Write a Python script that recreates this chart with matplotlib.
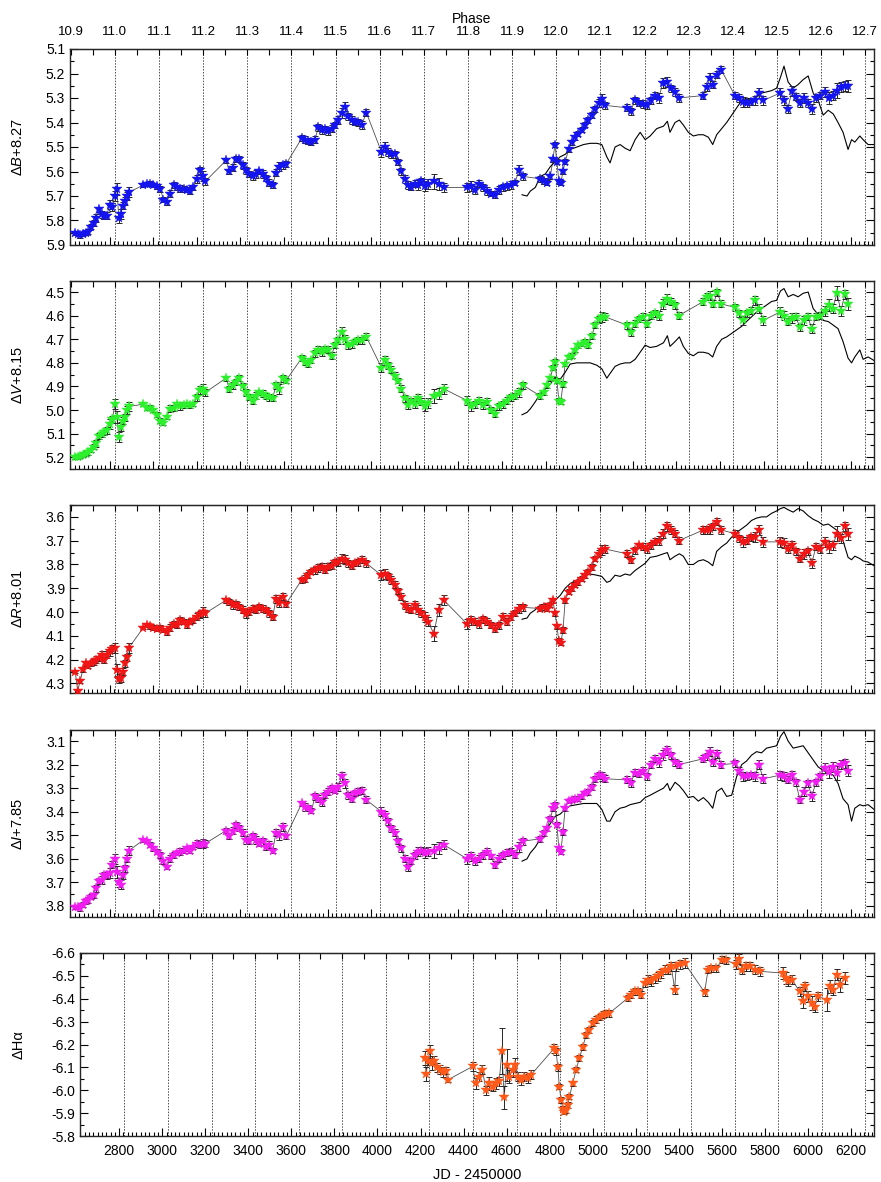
import numpy as np
import matplotlib.pyplot as plt
from matplotlib.ticker import MultipleLocator, NullFormatter, FormatStrFormatter

plt.rcParams['font.family'] = ['Liberation Sans', 'DejaVu Sans']
plt.rcParams['mathtext.fontset'] = 'custom'
plt.rcParams['mathtext.rm'] = 'Liberation Sans'
plt.rcParams['mathtext.it'] = 'Liberation Sans:italic'
plt.rcParams['axes.unicode_minus'] = False

# ephemeris for the phase scale (phase 11.0 at JD 2452824)
T0 = 2824.0
P = 2025.0

# BVRI photometry: common epochs (JD - 2450000)
jd = [2642, 2653, 2665, 2677, 2690, 2702, 2714, 2726, 2738, 2751, 2763, 2775, 2787, 2800, 2812,
      2824, 2833, 2842, 2851, 2861, 2870, 2879, 2888,
      2955, 2971, 2986, 3001, 3016, 3032, 3047, 3062, 3077, 3093, 3108, 3123, 3139, 3154, 3169, 3184, 3200, 3215, 3227, 3239,
      3334, 3349, 3365, 3380, 3395, 3410, 3426, 3441, 3456, 3471, 3487, 3502, 3517, 3532, 3548, 3563, 3578, 3594, 3609,
      3681, 3696, 3711, 3726, 3742, 3757, 3772, 3788, 3803, 3818, 3833, 3849, 3864, 3879, 3894, 3910, 3925, 3940, 3956, 3978,
      4047, 4062, 4078, 4093, 4108, 4123, 4139, 4154, 4169, 4184, 4200, 4215, 4230, 4246, 4261, 4287, 4310, 4333,
      4440, 4458, 4476, 4495, 4513, 4531, 4550, 4568, 4586, 4605, 4623, 4641, 4660, 4678, 4696,
      4776, 4791, 4806, 4822, 4834, 4843, 4852, 4861, 4870, 4880,
      4890, 4906, 4921, 4936, 4951, 4967, 4982, 4997, 5012, 5028, 5043, 5058, 5074,
      5173, 5191, 5209, 5228, 5246, 5264, 5283, 5301, 5319, 5338, 5356, 5374, 5393, 5411,
      5524, 5539, 5555, 5570, 5588, 5606,
      5669, 5688, 5706, 5724, 5742, 5761, 5779, 5799,
      5875, 5894, 5912, 5930, 5948, 5967, 5985, 6003, 6022, 6040, 6058,
      6081, 6100, 6118, 6137, 6155, 6173, 6188]

b_mag = [5.85, 5.855, 5.86, 5.855, 5.85, 5.845, 5.825, 5.81, 5.79, 5.755, 5.775, 5.78, 5.78, 5.735, 5.745,
         5.70, 5.67, 5.79, 5.775, 5.74, 5.72, 5.70, 5.685,
         5.655, 5.65, 5.65, 5.655, 5.66, 5.67, 5.715, 5.725, 5.69, 5.655, 5.665, 5.67, 5.67, 5.675, 5.68, 5.665, 5.63, 5.595, 5.62, 5.64,
         5.555, 5.60, 5.585, 5.55, 5.55, 5.575, 5.595, 5.61, 5.62, 5.61, 5.60, 5.61, 5.625, 5.645, 5.655, 5.605, 5.58, 5.575, 5.57,
         5.465, 5.47, 5.475, 5.48, 5.47, 5.42, 5.43, 5.425, 5.435, 5.425, 5.41, 5.39, 5.36, 5.335, 5.375, 5.39, 5.40, 5.40, 5.41, 5.36,
         5.52, 5.50, 5.52, 5.53, 5.53, 5.56, 5.60, 5.63, 5.655, 5.665, 5.65, 5.655, 5.64, 5.66, 5.65, 5.64, 5.65, 5.665,
         5.665, 5.66, 5.675, 5.65, 5.665, 5.68, 5.69, 5.695, 5.675, 5.665, 5.66, 5.655, 5.645, 5.595, 5.62,
         5.63, 5.64, 5.645, 5.62, 5.55, 5.49, 5.56, 5.64, 5.645, 5.60,
         5.56, 5.51, 5.48, 5.46, 5.445, 5.43, 5.41, 5.39, 5.37, 5.345, 5.32, 5.305, 5.33,
         5.34, 5.355, 5.31, 5.32, 5.325, 5.33, 5.31, 5.29, 5.30, 5.24, 5.235, 5.26, 5.275, 5.30,
         5.29, 5.255, 5.22, 5.245, 5.205, 5.185,
         5.29, 5.30, 5.315, 5.32, 5.315, 5.31, 5.28, 5.31,
         5.28, 5.31, 5.345, 5.27, 5.295, 5.32, 5.30, 5.32, 5.345, 5.30, 5.29,
         5.275, 5.30, 5.29, 5.27, 5.255, 5.25, 5.25]

v_mag = [5.20, 5.20, 5.195, 5.19, 5.185, 5.18, 5.17, 5.155, 5.14, 5.11, 5.10, 5.095, 5.085, 5.06, 5.04,
         4.975, 5.03, 5.115, 5.07, 5.045, 5.03, 5.0, 4.985,
         4.975, 4.99, 4.99, 5.0, 5.02, 5.045, 5.055, 5.03, 4.995, 4.99, 4.975, 4.985, 4.98, 4.975, 4.98, 4.975, 4.945, 4.915, 4.91, 4.925,
         4.865, 4.91, 4.895, 4.88, 4.865, 4.90, 4.925, 4.945, 4.96, 4.94, 4.925, 4.93, 4.94, 4.945, 4.95, 4.895, 4.91, 4.865, 4.875,
         4.78, 4.795, 4.805, 4.79, 4.76, 4.745, 4.755, 4.74, 4.745, 4.77, 4.725, 4.705, 4.67, 4.70, 4.725, 4.72, 4.71, 4.705, 4.705, 4.69,
         4.82, 4.79, 4.81, 4.83, 4.855, 4.875, 4.91, 4.95, 4.98, 4.96, 4.975, 4.95, 4.965, 4.985, 4.97, 4.94, 4.93, 4.91,
         4.96, 4.985, 4.975, 4.96, 4.98, 4.965, 5.0, 5.015, 4.985, 4.975, 4.96, 4.945, 4.94, 4.925, 4.895,
         4.94, 4.925, 4.895, 4.865, 4.82, 4.795, 4.875, 4.96, 4.965, 4.89,
         4.805, 4.775, 4.77, 4.745, 4.725, 4.72, 4.71, 4.725, 4.685, 4.64, 4.615, 4.605, 4.605,
         4.64, 4.67, 4.635, 4.615, 4.605, 4.635, 4.60, 4.59, 4.60, 4.55, 4.53, 4.54, 4.555, 4.60,
         4.54, 4.52, 4.515, 4.55, 4.50, 4.55,
         4.565, 4.59, 4.62, 4.59, 4.58, 4.535, 4.57, 4.62,
         4.585, 4.60, 4.625, 4.61, 4.605, 4.65, 4.62, 4.605, 4.655, 4.605, 4.60,
         4.58, 4.555, 4.57, 4.505, 4.58, 4.51, 4.55]

r_mag = [4.25, 4.33, 4.29, 4.24, 4.215, 4.225, 4.215, 4.21, 4.20, 4.195, 4.18, 4.20, 4.18, 4.165, 4.155,
         4.15, 4.245, 4.28, 4.275, 4.25, 4.215, 4.19, 4.15,
         4.065, 4.055, 4.06, 4.065, 4.07, 4.065, 4.075, 4.085, 4.065, 4.05, 4.055, 4.035, 4.04, 4.055, 4.04, 4.035, 4.02, 4.01, 4.0, 4.005,
         3.95, 3.957, 3.97, 3.965, 3.98, 3.99, 4.01, 4.0, 3.985, 3.99, 3.98, 3.985, 3.99, 4.005, 4.02, 3.945, 3.96, 3.935, 3.965,
         3.865, 3.86, 3.845, 3.83, 3.825, 3.815, 3.81, 3.825, 3.81, 3.805, 3.79, 3.79, 3.775, 3.78, 3.795, 3.805, 3.795, 3.79, 3.78, 3.795,
         3.845, 3.84, 3.85, 3.865, 3.885, 3.91, 3.935, 3.97, 3.985, 3.99, 3.97, 3.99, 4.005, 4.02, 4.04, 4.09, 3.99, 3.95,
         4.05, 4.035, 4.04, 4.05, 4.03, 4.04, 4.055, 4.07, 4.055, 4.02, 4.04, 4.02, 4.005, 3.985, 3.98,
         3.985, 3.98, 3.985, 3.97, 3.95, 4.005, 4.06, 4.12, 4.13, 4.075,
         3.95, 3.915, 3.90, 3.885, 3.875, 3.86, 3.845, 3.83, 3.81, 3.775, 3.755, 3.74, 3.735,
         3.755, 3.78, 3.74, 3.72, 3.725, 3.735, 3.72, 3.705, 3.70, 3.67, 3.64, 3.655, 3.67, 3.70,
         3.655, 3.655, 3.65, 3.64, 3.62, 3.655,
         3.67, 3.69, 3.705, 3.70, 3.685, 3.685, 3.655, 3.705,
         3.705, 3.71, 3.735, 3.72, 3.745, 3.775, 3.755, 3.745, 3.795, 3.725, 3.735,
         3.705, 3.725, 3.72, 3.67, 3.69, 3.64, 3.67]

i_mag = [3.805, 3.805, 3.81, 3.795, 3.78, 3.775, 3.76, 3.755, 3.725, 3.695, 3.69, 3.67, 3.67, 3.66, 3.625,
         3.60, 3.655, 3.70, 3.71, 3.67, 3.64, 3.60, 3.565,
         3.52, 3.525, 3.54, 3.555, 3.57, 3.585, 3.61, 3.635, 3.60, 3.585, 3.575, 3.57, 3.565, 3.555, 3.565, 3.55, 3.535, 3.54, 3.535, 3.535,
         3.48, 3.505, 3.48, 3.455, 3.47, 3.49, 3.52, 3.525, 3.505, 3.52, 3.535, 3.525, 3.55, 3.54, 3.565, 3.49, 3.50, 3.465, 3.505,
         3.365, 3.38, 3.385, 3.395, 3.335, 3.345, 3.36, 3.33, 3.315, 3.30, 3.31, 3.295, 3.25, 3.28, 3.33, 3.345, 3.32, 3.315, 3.31, 3.35,
         3.40, 3.415, 3.44, 3.47, 3.49, 3.525, 3.555, 3.60, 3.635, 3.61, 3.585, 3.57, 3.565, 3.575, 3.57, 3.565, 3.555, 3.54,
         3.60, 3.59, 3.61, 3.60, 3.585, 3.57, 3.59, 3.625, 3.60, 3.585, 3.575, 3.57, 3.585, 3.55, 3.525,
         3.515, 3.49, 3.47, 3.43, 3.385, 3.37, 3.455, 3.555, 3.57, 3.485,
         3.385, 3.355, 3.35, 3.345, 3.345, 3.335, 3.32, 3.315, 3.295, 3.26, 3.245, 3.25, 3.26,
         3.265, 3.28, 3.235, 3.24, 3.225, 3.25, 3.20, 3.175, 3.19, 3.16, 3.14, 3.16, 3.19, 3.20,
         3.175, 3.165, 3.145, 3.19, 3.155, 3.20,
         3.195, 3.225, 3.25, 3.25, 3.245, 3.25, 3.20, 3.26,
         3.245, 3.25, 3.265, 3.245, 3.275, 3.35, 3.315, 3.28, 3.335, 3.275, 3.25,
         3.215, 3.23, 3.21, 3.235, 3.20, 3.195, 3.225]

phot_err = [0.008, 0.008, 0.01, 0.01, 0.01, 0.012, 0.01, 0.012, 0.015, 0.012, 0.015, 0.012, 0.015, 0.02, 0.015,
            0.02, 0.025, 0.02, 0.02, 0.015, 0.015, 0.015, 0.02,
            0.008, 0.008, 0.01, 0.01, 0.01, 0.012, 0.01, 0.01, 0.015, 0.012, 0.01, 0.015, 0.012, 0.01, 0.012, 0.01, 0.015, 0.015, 0.02, 0.015,
            0.01, 0.012, 0.015, 0.012, 0.012, 0.015, 0.015, 0.012, 0.015, 0.015, 0.012, 0.015, 0.012, 0.015, 0.012, 0.015, 0.02, 0.015, 0.012,
            0.012, 0.015, 0.012, 0.012, 0.015, 0.015, 0.015, 0.012, 0.015, 0.015, 0.012, 0.015, 0.02, 0.02, 0.015, 0.015, 0.012, 0.015, 0.015, 0.015,
            0.02, 0.02, 0.015, 0.015, 0.015, 0.012, 0.015, 0.015, 0.015, 0.012, 0.015, 0.02, 0.015, 0.02, 0.02, 0.03, 0.025, 0.02,
            0.02, 0.02, 0.015, 0.015, 0.015, 0.015, 0.012, 0.015, 0.015, 0.015, 0.015, 0.015, 0.012, 0.02, 0.015,
            0.012, 0.012, 0.01, 0.01, 0.01, 0.01, 0.01, 0.01, 0.01, 0.012,
            0.01, 0.01, 0.01, 0.01, 0.01, 0.01, 0.01, 0.012, 0.012, 0.012, 0.015, 0.02, 0.015,
            0.015, 0.015, 0.015, 0.012, 0.015, 0.015, 0.015, 0.015, 0.02, 0.02, 0.02, 0.015, 0.015, 0.015,
            0.015, 0.015, 0.02, 0.015, 0.015, 0.015,
            0.015, 0.015, 0.02, 0.015, 0.015, 0.02, 0.02, 0.02,
            0.02, 0.02, 0.015, 0.02, 0.015, 0.015, 0.02, 0.015, 0.02, 0.015, 0.015,
            0.02, 0.025, 0.02, 0.03, 0.02, 0.02, 0.025]

# previous cycle, shifted by one period
prev_jd = [4692, 4715, 4730, 4753, 4776, 4799, 4822, 4844, 4867, 4890, 4913, 4944, 4974, 5005, 5035,
           5058, 5081, 5096, 5119, 5142, 5165, 5188, 5211, 5234, 5257, 5280, 5310, 5341, 5359, 5371,
           5394, 5414, 5432, 5455, 5478, 5501, 5524, 5547, 5567, 5585, 5608, 5631, 5654, 5677, 5700,
           5722, 5745, 5768, 5791, 5814, 5837, 5860, 5878, 5894, 5913, 5936, 5959, 5982, 6005, 6028,
           6051, 6074, 6097, 6120, 6142, 6165, 6188, 6204, 6219, 6242, 6257, 6280, 6307]

prev_b = [5.695, 5.70, 5.68, 5.665, 5.62, 5.61, 5.58, 5.56, 5.54, 5.53, 5.51, 5.50, 5.49, 5.485, 5.485,
          5.49, 5.54, 5.565, 5.50, 5.49, 5.505, 5.515, 5.47, 5.44, 5.47, 5.455, 5.425, 5.415, 5.395, 5.44,
          5.40, 5.39, 5.41, 5.44, 5.455, 5.45, 5.45, 5.46, 5.49, 5.45, 5.425, 5.40, 5.37, 5.34, 5.31,
          5.30, 5.305, 5.295, 5.28, 5.275, 5.27, 5.26, 5.215, 5.17, 5.235, 5.26, 5.245, 5.225, 5.21, 5.28,
          5.31, 5.37, 5.35, 5.365, 5.40, 5.44, 5.51, 5.47, 5.48, 5.455, 5.47, 5.49, 5.49]

prev_v = [5.02, 5.01, 4.995, 4.965, 4.93, 4.91, 4.89, 4.86, 4.87, 4.84, 4.805, 4.80, 4.80, 4.80, 4.81,
          4.825, 4.865, 4.845, 4.815, 4.805, 4.80, 4.80, 4.785, 4.755, 4.725, 4.735, 4.73, 4.715, 4.685, 4.73,
          4.71, 4.69, 4.73, 4.76, 4.77, 4.755, 4.755, 4.76, 4.775, 4.73, 4.70, 4.69, 4.675, 4.66, 4.645,
          4.625, 4.605, 4.585, 4.57, 4.555, 4.54, 4.535, 4.495, 4.485, 4.52, 4.51, 4.52, 4.505, 4.50, 4.57,
          4.595, 4.62, 4.625, 4.64, 4.655, 4.71, 4.78, 4.80, 4.775, 4.745, 4.785, 4.775, 4.79]

prev_r = [4.03, 4.025, 4.005, 3.99, 3.97, 3.965, 3.96, 3.95, 3.93, 3.90, 3.88, 3.865, 3.85, 3.84, 3.845,
          3.85, 3.875, 3.87, 3.845, 3.85, 3.84, 3.845, 3.825, 3.81, 3.795, 3.77, 3.765, 3.755, 3.75, 3.78,
          3.765, 3.755, 3.765, 3.80, 3.80, 3.785, 3.78, 3.79, 3.805, 3.745, 3.725, 3.71, 3.685, 3.665, 3.65,
          3.635, 3.615, 3.605, 3.60, 3.60, 3.585, 3.575, 3.565, 3.56, 3.57, 3.58, 3.565, 3.575, 3.595, 3.61,
          3.62, 3.635, 3.63, 3.645, 3.66, 3.70, 3.77, 3.78, 3.765, 3.775, 3.785, 3.79, 3.805]

prev_i = [3.61, 3.60, 3.575, 3.55, 3.515, 3.48, 3.45, 3.42, 3.41, 3.39, 3.375, 3.37, 3.365, 3.365, 3.365,
          3.39, 3.44, 3.44, 3.40, 3.385, 3.38, 3.37, 3.365, 3.36, 3.34, 3.33, 3.315, 3.30, 3.28, 3.31,
          3.275, 3.29, 3.31, 3.34, 3.335, 3.355, 3.34, 3.36, 3.385, 3.315, 3.30, 3.335, 3.33, 3.25, 3.20,
          3.185, 3.16, 3.145, 3.15, 3.13, 3.125, 3.12, 3.08, 3.06, 3.10, 3.13, 3.125, 3.12, 3.15, 3.18,
          3.21, 3.225, 3.235, 3.245, 3.28, 3.345, 3.37, 3.44, 3.385, 3.37, 3.375, 3.37, 3.39]

# H-alpha
ha_jd = [4221, 4226, 4235, 4243, 4252, 4261, 4275, 4289, 4303, 4317, 4326,
         4442, 4457, 4473, 4488, 4504, 4520, 4535, 4551, 4566, 4578, 4589, 4600, 4613, 4628, 4641, 4651, 4667, 4682, 4698, 4713,
         4822, 4830, 4838, 4845, 4853, 4861, 4869, 4876, 4884, 4892, 4907, 4923, 4938, 4954, 4970, 4985, 5001, 5016, 5032, 5047, 5063, 5078,
         5163, 5179, 5195, 5210, 5226, 5241, 5257, 5272, 5288, 5303, 5319, 5334, 5350, 5365, 5381, 5388, 5404, 5427,
         5520, 5536, 5551, 5575, 5603, 5621,
         5665, 5680, 5696, 5714, 5730, 5753, 5776,
         5885, 5897, 5908, 5924, 5963, 5975, 5986, 6001, 6017, 6032, 6048,
         6087, 6102, 6118, 6133, 6149, 6172]

ha_val = [-6.14, -6.07, -6.13, -6.17, -6.12, -6.13, -6.10, -6.09, -6.08, -6.085, -6.045,
          -6.104, -6.03, -6.06, -6.09, -6.0, -6.03, -6.016, -6.03, -6.04, -6.17, -5.97, -6.11, -6.06, -6.09, -6.11, -6.06, -6.045, -6.06, -6.053, -6.067,
          -6.184, -6.17, -6.10, -6.016, -5.958, -5.92, -5.907, -5.914, -5.936, -5.972, -6.03, -6.09, -6.14, -6.19, -6.242, -6.264, -6.293, -6.308, -6.32, -6.33, -6.334, -6.337,
          -6.403, -6.418, -6.432, -6.432, -6.418, -6.47, -6.483, -6.476, -6.49, -6.498, -6.512, -6.527, -6.527, -6.542, -6.44, -6.542, -6.55, -6.556,
          -6.428, -6.527, -6.534, -6.534, -6.571, -6.568,
          -6.55, -6.574, -6.527, -6.542, -6.542, -6.527, -6.52,
          -6.512, -6.49, -6.476, -6.483, -6.432, -6.39, -6.454, -6.41, -6.38, -6.366, -6.41,
          -6.396, -6.454, -6.44, -6.505, -6.461, -6.49]

ha_err = [0.03, 0.03, 0.02, 0.03, 0.03, 0.02, 0.02, 0.02, 0.02, 0.015, 0.01,
          0.02, 0.025, 0.02, 0.02, 0.02, 0.03, 0.02, 0.025, 0.02, 0.1, 0.05, 0.07, 0.03, 0.03, 0.03, 0.02, 0.02, 0.02, 0.02, 0.02,
          0.02, 0.015, 0.015, 0.012, 0.012, 0.012, 0.012, 0.012, 0.012, 0.012, 0.012, 0.012, 0.012, 0.012, 0.012, 0.012, 0.012, 0.015, 0.015, 0.015, 0.015, 0.015,
          0.015, 0.015, 0.015, 0.015, 0.015, 0.02, 0.02, 0.02, 0.02, 0.02, 0.02, 0.02, 0.02, 0.02, 0.02, 0.02, 0.02, 0.02,
          0.015, 0.015, 0.015, 0.015, 0.015, 0.015,
          0.02, 0.02, 0.02, 0.02, 0.02, 0.02, 0.02,
          0.025, 0.025, 0.02, 0.02, 0.02, 0.03, 0.02, 0.025, 0.03, 0.025, 0.02,
          0.05, 0.03, 0.025, 0.025, 0.03, 0.025]


def to_phase(x):
    return 11.0 + (np.asarray(x, dtype=float) - T0) / P


def to_jd(ph):
    return T0 + (np.asarray(ph, dtype=float) - 11.0) * P


W, H = 881, 1182
fig = plt.figure(figsize=(W / 100, H / 100), dpi=100)


def add_panel(l, t, r, b):
    return fig.add_axes([l / W, 1 - b / H, (r - l) / W, (b - t) / H])


def style_axes(ax, ylim, ylabel, labx, show_phase, show_jd):
    ax.set_xlim(2618, 6307)
    ax.set_ylim(*ylim)
    for ph in np.arange(11.0, 12.75, 0.1):
        ax.axvline(to_jd(ph), color='0.3', lw=0.7, ls=(0, (1.5, 1.5)), zorder=0)
    ax.xaxis.set_major_locator(MultipleLocator(200))
    ax.xaxis.set_minor_locator(MultipleLocator(20))
    ax.yaxis.set_major_locator(MultipleLocator(0.1))
    ax.yaxis.set_minor_locator(MultipleLocator(0.05))
    ax.yaxis.set_major_formatter(FormatStrFormatter('%.1f'))
    ax.tick_params(which='both', direction='in', top=False, right=True, labelsize=10)
    ax.tick_params(which='major', length=6, width=0.8)
    ax.tick_params(which='minor', length=3, width=0.8)
    if not show_jd:
        ax.xaxis.set_major_formatter(NullFormatter())
    else:
        ax.tick_params(axis='x', pad=6)
        ax.set_xlabel('JD - 2450000', fontsize=10.5, labelpad=7)
    ax.set_ylabel(ylabel, fontsize=10.5)
    ax.yaxis.set_label_coords(labx, 0.5)
    for sp in ax.spines.values():
        sp.set_linewidth(1.0)
        sp.set_color('0.15')

    sec = ax.secondary_xaxis('top', functions=(to_phase, to_jd))
    sec.xaxis.set_major_locator(MultipleLocator(0.1))
    sec.xaxis.set_minor_locator(MultipleLocator(0.05))
    sec.tick_params(which='both', direction='in', length=4, width=0.8, labelsize=9.5, pad=8)
    if show_phase:
        sec.xaxis.set_major_formatter(FormatStrFormatter('%.1f'))
        sec.set_xlabel('Phase', fontsize=10, labelpad=2)
    else:
        sec.xaxis.set_major_formatter(NullFormatter())


def draw_series(ax, x, y, err, color):
    ax.plot(x, y, color='0.3', lw=0.6, zorder=2)
    ax.errorbar(x, y, yerr=err, fmt='none', ecolor='0.15', elinewidth=0.7,
                capsize=2.5, capthick=0.7, zorder=3)
    ax.plot(x, y, ls='none', marker='*', ms=7.5, color=color, mec=color, mew=0.3, zorder=4)


bands = [
    ((70, 49, 874, 245), b_mag, prev_b, '#1414f0', (5.9, 5.1), r'$\Delta\mathit{B}$+8.27'),
    ((70, 281, 874, 469), v_mag, prev_v, '#2cf02c', (5.25, 4.453), r'$\Delta\mathit{V}$+8.15'),
    ((70, 505, 874, 693), r_mag, prev_r, '#f01616', (4.34, 3.55), r'$\Delta\mathit{R}$+8.01'),
    ((70, 730, 874, 917), i_mag, prev_i, '#f01cf0', (3.847, 3.053), r'$\Delta\mathit{I}$+7.85'),
]

for k, (box, mag, prev, color, ylim, ylabel) in enumerate(bands):
    ax = add_panel(*box)
    style_axes(ax, ylim, ylabel, -0.056, k == 0, False)
    ax.plot(prev_jd, prev, color='k', lw=0.8, zorder=2.5)
    draw_series(ax, jd, mag, phot_err, color)

ax = add_panel(80, 953, 874, 1136)
style_axes(ax, (-5.8, -6.6), 'ΔHα', -0.069, False, True)
draw_series(ax, ha_jd, ha_val, ha_err, '#ff5a1a')

fig.savefig('out.png', dpi=100)
